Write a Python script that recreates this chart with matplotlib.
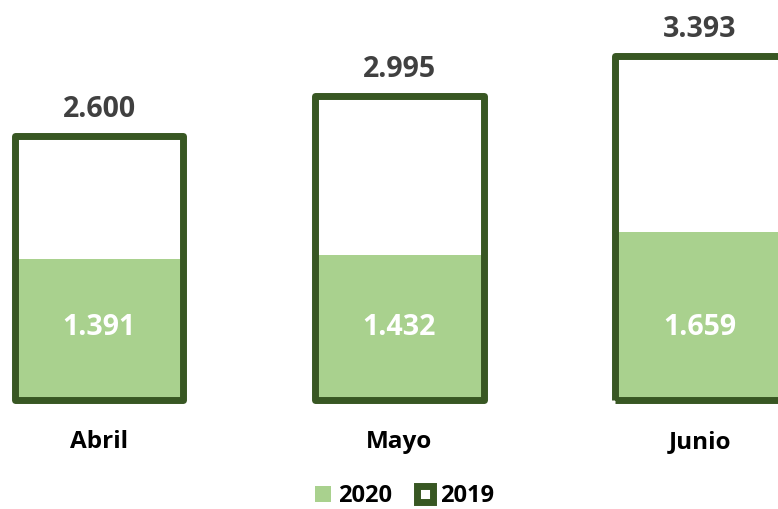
import matplotlib.pyplot as plt
from matplotlib.patches import Patch
import numpy as np

months = ['Abril', 'Mayo', 'Junio']
values_2019 = [2600, 2995, 3393]
values_2020 = [1391, 1432, 1659]
labels_2019 = ['2.600', '2.995', '3.393']
labels_2020 = ['1.391', '1.432', '1.659']

dark_green = '#385723'
light_green = '#a9d18e'

plt.rcParams['font.family'] = ['Open Sans', 'DejaVu Sans']

W, H = 778, 509
fig = plt.figure(figsize=(W / 100, H / 100), dpi=100)
ax = fig.add_axes([0, 0, 1, 1])

# pixel mapping: category spacing ~300.5 px, first centre at 99 px,
# baseline at 399.5 px from top, ~0.1012 px per unit
px_cat = 300.5
x0_px = 99
base_px = H - 399.5
px_unit = 0.1012
ax.set_xlim(-x0_px / px_cat, (W - x0_px) / px_cat)
ax.set_ylim(-base_px / px_unit, (H - base_px) / px_unit)
ax.axis('off')

x = np.arange(len(months))
width = 169 / px_cat

# 2019 background, 2020 fill, then 2019 outline on top
ax.bar(x, values_2019, width, color='white', linewidth=0, zorder=1)
ax.bar(x, values_2020, width, color=light_green, linewidth=0, zorder=2)
ax.bar(x, values_2019, width, facecolor='none', edgecolor=dark_green,
       linewidth=5.0, joinstyle='round', zorder=3)

for xi, v19, l19, l20 in zip(x, values_2019, labels_2019, labels_2020):
    ax.text(xi, v19 + 193, l19, ha='center', va='baseline', fontsize=20.5,
            fontweight='bold', color='#404040')
    ax.text(xi, 640, l20, ha='center', va='baseline', fontsize=20.5,
            fontweight='bold', color='white', zorder=4)
    ax.text(xi, -479, months[xi], ha='center', va='baseline', fontsize=17.5,
            fontweight='bold', color='black')

handles = [Patch(facecolor=light_green, edgecolor='none', label='2020'),
           Patch(facecolor='white', edgecolor=dark_green, linewidth=5, label='2019')]
leg = fig.legend(handles=handles, loc='center', bbox_to_anchor=(0.52, 1 - 496 / H),
                 ncol=2, frameon=False, handlelength=0.68, handleheight=0.68,
                 handletextpad=0.3, columnspacing=1.05, borderpad=0,
                 prop={'weight': 'bold', 'size': 17})

fig.savefig('out.png', dpi=100)
